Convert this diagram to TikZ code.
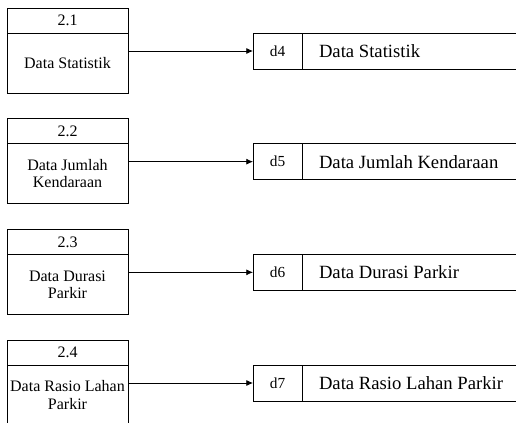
\documentclass[tikz,border=0pt]{standalone}
\usepackage{fontspec}
\setmainfont{Liberation Serif}
\usetikzlibrary{arrows.meta,positioning}

\begin{document}
\begin{tikzpicture}[
  x=0.75pt, y=-0.75pt,
  phead/.style={rectangle, draw, line width=0.6pt, outer sep=0pt, inner sep=0pt,
                minimum width=90.75pt, minimum height=18.75pt,
                font=\fontsize{12}{13.8}\selectfont},
  pbody/.style={rectangle, draw, line width=0.6pt, outer sep=0pt, inner sep=0pt,
                minimum width=90.75pt, minimum height=45pt, align=center,
                font=\fontsize{12}{12.8}\selectfont},
  sid/.style={rectangle, draw, line width=0.6pt, outer sep=0pt, inner sep=0pt,
              minimum width=36.75pt, minimum height=27pt,
              font=\fontsize{11.5}{13}\selectfont},
  slabel/.style={rectangle, inner sep=0pt, outer sep=0pt,
                 font=\fontsize{14}{16}\selectfont},
  sline/.style={line width=0.6pt},
  flow/.style={-{Latex[length=5pt,width=4.5pt]}, line width=0.6pt}
]
  \useasboundingbox (0,0) rectangle (516,423);
  \coordinate (rim) at (516,0);

  % processes
  \node[phead, anchor=north west] (h1) at (7,8) {2.1};
  \node[pbody, below=0pt of h1] (b1) {Data Statistik};
  \node[phead, below=19.25pt of b1] (h2) {2.2};
  \node[pbody, below=0pt of h2] (b2) {Data Jumlah\\Kendaraan};
  \node[phead, below=19.25pt of b2] (h3) {2.3};
  \node[pbody, below=0pt of h3] (b3) {Data Durasi\\Parkir};
  \node[phead, below=19.25pt of b3] (h4) {2.4};
  \node[pbody, below=0pt of h4] (b4) {Data Rasio Lahan\\Parkir};

  % data stores
  \node[sid, right=93.75pt of h1.south east, anchor=north west] (s1) {d4};
  \node[slabel, right=12.75pt of s1] (l1) {Data Statistik};
  \node[sid, right=93.75pt of h2.south east, anchor=north west] (s2) {d5};
  \node[slabel, right=12.75pt of s2] (l2) {Data Jumlah Kendaraan};
  \node[sid, right=93.75pt of h3.south east, anchor=north west] (s3) {d6};
  \node[slabel, right=12.75pt of s3] (l3) {Data Durasi Parkir};
  \node[sid, right=93.75pt of h4.south east, anchor=north west] (s4) {d7};
  \node[slabel, right=12.75pt of s4] (l4) {Data Rasio Lahan Parkir};

  \foreach \s in {s1,s2,s3,s4}{
    \draw[sline] (\s.north east) -- (\s.north east -| rim);
    \draw[sline] (\s.south east) -- (\s.south east -| rim);
  }

  % flows
  \draw[flow] (b1.east |- s1.west) -- (s1.west);
  \draw[flow] (b2.east |- s2.west) -- (s2.west);
  \draw[flow] (b3.east |- s3.west) -- (s3.west);
  \draw[flow] (b4.east |- s4.west) -- (s4.west);
\end{tikzpicture}
\end{document}
